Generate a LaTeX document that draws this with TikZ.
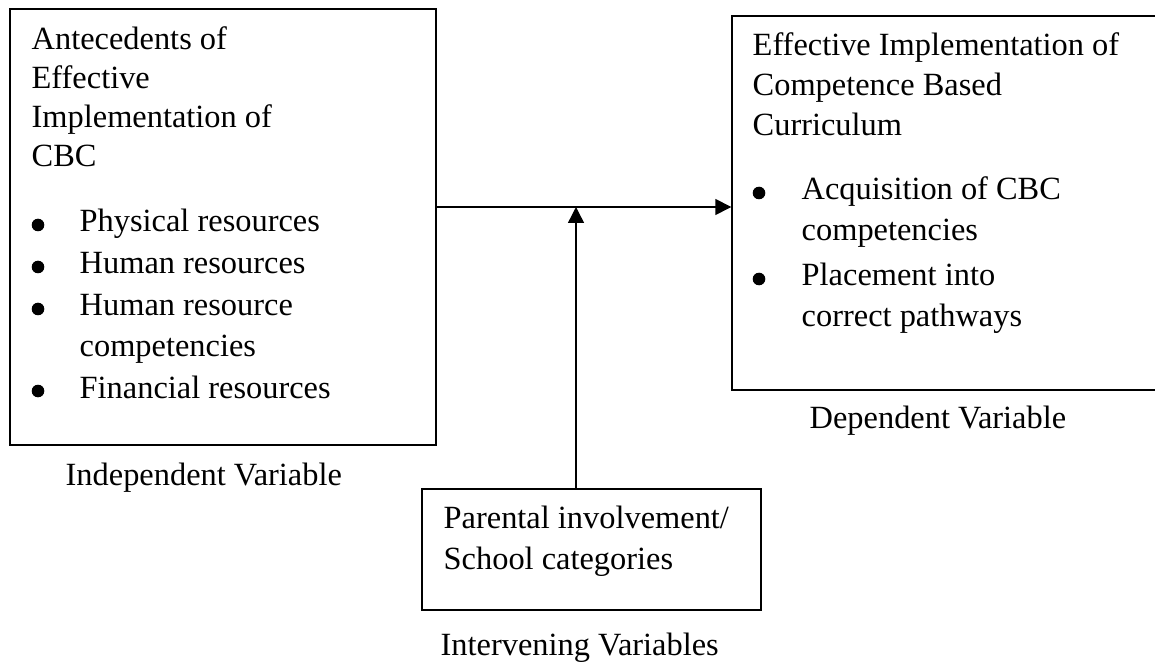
\documentclass[tikz,border=0pt]{standalone}
\usepackage{fontspec}
\setmainfont{Liberation Serif}
\usetikzlibrary{arrows.meta}

\begin{document}
\begin{tikzpicture}[x=0.5pt, y=-0.5pt, line width=0.7pt,
		every node/.style={font=\fontsize{16.2}{19}\selectfont},
		box/.style={draw, rectangle, inner sep=0pt},
		txt/.style={anchor=base west, inner sep=0pt},
		dot/.style={circle, fill, inner sep=0pt, minimum size=6.3pt},
		arr/.style={-{Triangle[length=8pt,width=8pt]}}]
		\useasboundingbox (0,0) rectangle (1155,662);
		% boxes
		\node[box, minimum width=213pt, minimum height=218pt] (iv) at (223,227) {};
		\node[box, minimum width=213pt, minimum height=187pt] (dv) at (945,203) {};
		\node[box, minimum width=169.5pt, minimum height=60.5pt] (mv) at (591.5,549.5) {};
		% independent variable
		\node[txt] (iv1) at (31,50) {Antecedents of};
		\node[txt] (iv2) at (31,89) {Effective};
		\node[txt] (iv3) at (31,128) {Implementation of};
		\node[txt] (iv4) at (31,167) {CBC};
		\foreach \y/\t [count=\i] in {232/Physical resources, 274/Human resources, 316/Human resource, 398/Financial resources} {
			\node[dot] (ivb\i) at (38,\y-7) {};
			\node[txt] (ivi\i) at (79,\y) {\t};
		}
		\node[txt] (ivi5) at (79,357) {competencies};
		\node[txt] (ivlab) at (65,485) {Independent Variable};
		% dependent variable
		\node[txt] (dv1) at (752,56) {Effective Implementation of};
		\node[txt] (dv2) at (752,96) {Competence Based};
		\node[txt] (dv3) at (752,136) {Curriculum};
		\node[dot] (dvb1) at (759,193) {};
		\node[txt] (dvi1) at (801,200) {Acquisition of CBC};
		\node[txt] (dvi2) at (801,241) {competencies};
		\node[dot] (dvb2) at (759,279) {};
		\node[txt] (dvi3) at (801,286) {Placement into};
		\node[txt] (dvi4) at (801,327) {correct pathways};
		\node[txt] (dvlab) at (809,428) {Dependent Variable};
		% intervening variables
		\node[txt] (mv1) at (443,528) {Parental involvement/};
		\node[txt] (mv2) at (443,569) {School categories};
		\node[txt] (mvlab) at (440,655) {Intervening Variables};
		% arrows
		\coordinate (jn) at (576,207);
		\draw[arr] (iv.east |- jn) -- (dv.west |- jn);
		\draw[arr] (mv.north -| jn) -- (jn);
	\end{tikzpicture}
\end{document}
